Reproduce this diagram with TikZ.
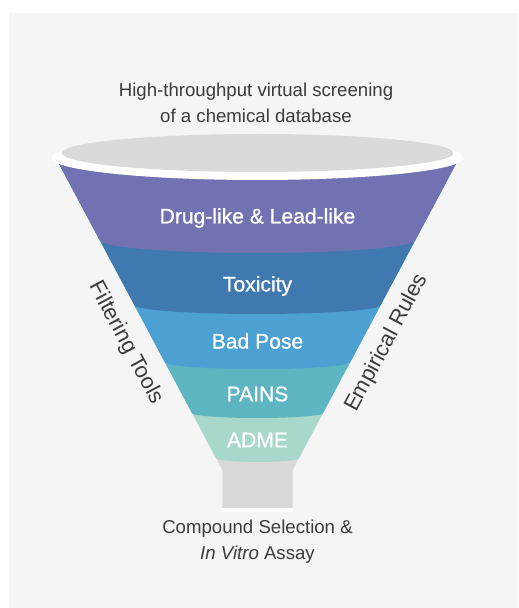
\documentclass[tikz,border=0pt]{standalone}
\usepackage{fontspec}
\setmainfont{Liberation Sans}
\newfontfamily\bandfont[FakeBold=0.9]{Liberation Sans}
\usetikzlibrary{positioning}
\definecolor{bgGray}{HTML}{F5F5F5}
\definecolor{rimGray}{HTML}{DADADA}
\definecolor{stemGray}{HTML}{D9D9D9}
\definecolor{txtGray}{HTML}{3C3C3C}
\definecolor{drugCol}{HTML}{7272B2}
\definecolor{toxCol}{HTML}{4079B0}
\definecolor{poseCol}{HTML}{4CA0D2}
\definecolor{painsCol}{HTML}{5CB5C0}
\definecolor{admeCol}{HTML}{A8D7CC}
\tikzset{
  band/.style={font=\bandfont\fontsize{12}{14}\selectfont, text=white},
  caption/.style={font=\fontsize{10.6}{14.8}\selectfont, text=txtGray, align=center},
  side/.style={font=\fontsize{12.5}{15}\selectfont, text=txtGray},
}

\begin{document}
\begin{tikzpicture}[x=0.02cm,y=0.02cm]
    \useasboundingbox (0,0) rectangle (518,608);
    \fill[bgGray] (9,0) rectangle (518,595);
    % stem of the funnel
    \fill[stemGray] (213.3,155) -- (222.3,138) -- (222.3,100) -- (292.7,100) -- (292.7,138) -- (301.7,155) -- cycle;
    \fill[white] (222.3,96) rectangle (292.7,100);
    % bands, bottom one first
    \begin{scope}
        \clip (56,450) -- (459,450) -- (292.7,138) -- (222.3,138) -- cycle;
        \foreach \col/\yy/\hw/\sag in {admeCol/150/41.6/4, painsCol/195/65.6/5, poseCol/246/92.7/7, toxCol/303/123.1/9, drugCol/368/157.8/13}
            \fill[\col] (-20,\yy) -- ({257.5-\hw},\yy) arc[start angle=180,end angle=360,x radius=\hw,y radius=\sag] -- (540,\yy) -- (540,470) -- (-20,470) -- cycle;
    \end{scope}
    % rim
    \fill[white] (257.5,450) ellipse[x radius=206,y radius=22];
    \fill[rimGray] (257.5,455) ellipse[x radius=196,y radius=19];
    \node[band] (drug) at (257.5,390) {Drug-like \& Lead-like};
    \node[band] (tox) at (257.5,322) {Toxicity};
    \node[band] (pose) at (257.5,267) {Bad Pose};
    \node[band] (pains) at (257.5,214) {PAINS};
    \node[band] (adme) at (257.5,168) {ADME};
    \node[caption] (screen) at (256,505) {High-throughput virtual screening\\of a chemical database};
    \node[caption] (assay) at (257.5,66) {Compound Selection \&\\\textit{In Vitro} Assay};
    \node[side,rotate=-61.9] (filter) at (126,265) {Filtering Tools};
    \node[side,rotate=61.9] (rules) at (387,265) {Empirical Rules};
\end{tikzpicture}
\end{document}
